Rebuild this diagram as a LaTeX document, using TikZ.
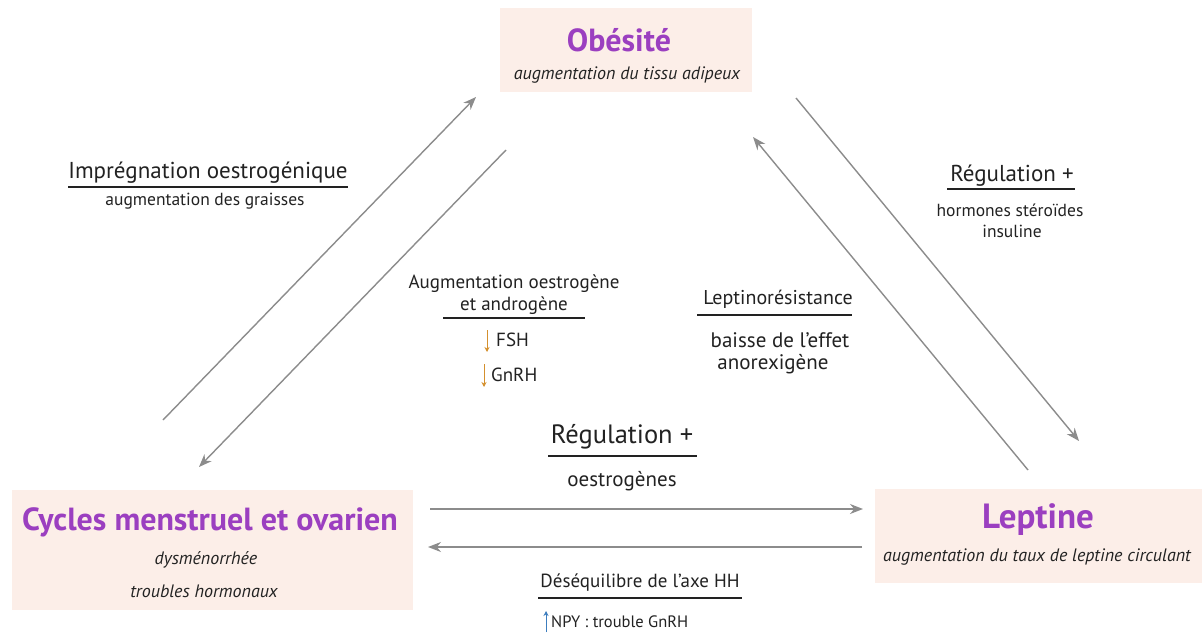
\documentclass[tikz,border=0pt]{standalone}
\usepackage{fontspec}
\setmainfont{PT Sans}
\usetikzlibrary{arrows.meta}
\definecolor{boxfill}{HTML}{FCEEE8}
\definecolor{titlec}{HTML}{9B3FC0}
\definecolor{txt}{HTML}{222222}
\definecolor{arr}{HTML}{8C8C8C}
\definecolor{orangea}{HTML}{D4902E}
\definecolor{bluea}{HTML}{3C7DBE}
\begin{document}
\begin{tikzpicture}[x=1pt,y=-1pt,
  box/.style={fill=boxfill, draw=none, inner sep=0, anchor=north west},
  titletxt/.style={font=\fontsize{32}{34}\selectfont\bfseries, text=titlec, inner sep=0},
  subit/.style={font=\fontsize{18}{20}\selectfont\itshape, text=txt, inner sep=0},
  head/.style={font=\fontsize{19}{22}\selectfont, text=txt, inner sep=0, align=center},
  bighead/.style={font=\fontsize{23}{26}\selectfont, text=txt, inner sep=0},
  body/.style={font=\fontsize{17.5}{20}\selectfont, text=txt, inner sep=0, align=center},
  midbody/.style={font=\fontsize{21}{24}\selectfont, text=txt, inner sep=0, align=center},
  uline/.style={draw=txt, line width=1.1pt},
  conn/.style={draw=arr, line width=1.4pt, -{Stealth[length=13pt,width=10pt]}},
  smallarr/.style={line width=1pt, -{Stealth[length=5pt,width=5pt]}}
]
\useasboundingbox (0,0) rectangle (1202,632);
\fill[white] (0,0) rectangle (1202,632);

% boxes
\node[box, minimum width=252pt, minimum height=84pt] (obox) at (500,8) {};
\node[box, minimum width=401pt, minimum height=120pt] (cbox) at (12,490) {};
\node[box, minimum width=327pt, minimum height=94pt] (lbox) at (875,489) {};

% box texts
\node[titletxt] (otitle) at (619,40) {Obésité};
\node[subit] (osub) at (627,75) {augmentation du tissu adipeux};
\node[titletxt] (ctitle) at (210,522) {Cycles menstruel et ovarien};
\node[subit] (csub1) at (206,560) {dysménorrhée};
\node[subit] (csub2) at (204,591) {troubles hormonaux};
\node[titletxt, font=\fontsize{35}{37}\selectfont\bfseries] (ltitle) at (1038,520) {Leptine};
\node[subit, font=\fontsize{18}{20}\selectfont\itshape] (lsub) at (1037,557) {augmentation du taux de leptine circulant};

% labels
\node[bighead] (imp) at (208,173) {Imprégnation oestrogénique};
\draw[uline] (68,187) -- (348,187);
\node[body] (impb) at (205,201) {augmentation des graisses};

\node[head, align=center] (aug) at (514,295) {Augmentation oestrogène\\et androgène};
\draw[uline] (443,318) -- (585,318);
\node[body, anchor=west, font=\fontsize{19}{21}\selectfont] (fsh) at (496,340) {FSH};
\node[body, anchor=west, font=\fontsize{19}{21}\selectfont] (gnrh) at (491,375) {GnRH};
\draw[smallarr, draw=orangea, fill=orangea] (487,330) -- (487,352);
\draw[smallarr, draw=orangea, fill=orangea] (484,364) -- (484,387);

\node[head, font=\fontsize{20}{22}\selectfont] (lepr) at (778,299) {Leptinorésistance};
\draw[uline] (697,315) -- (852,315);
\node[midbody] (leprb) at (780,340) {baisse de l'effet};
\node[midbody] (leprc) at (773,364) {anorexigène};

\node[bighead] (regr) at (1012,176) {Régulation +};
\draw[uline] (947,189) -- (1075,189);
\node[body] (regrb) at (1010,210) {hormones stéroïdes};
\node[body] (regrc) at (1012,231) {insuline};

\node[bighead, font=\fontsize{26.5}{28}\selectfont] (regm) at (622,437) {Régulation +};
\draw[uline] (548,456) -- (697,456);
\node[midbody] (regmb) at (622,481) {oestrogènes};

\node[head] (deseq) at (640,583) {Déséquilibre de l'axe HH};
\draw[uline] (538,598) -- (742,598);
\node[body, anchor=west, font=\fontsize{16.5}{18}\selectfont] (npy) at (551,622) {NPY : trouble GnRH};
\draw[smallarr, draw=bluea, fill=bluea] (546,632) -- (546,611);

% connector end points
\coordinate (a1s) at (163,420); \coordinate (a1e) at (476,97);
\coordinate (a2s) at (506,150); \coordinate (a2e) at (199,467);
\coordinate (a3s) at (1028,470); \coordinate (a3e) at (753,137);
\coordinate (a4s) at (796,98); \coordinate (a4e) at (1079,441);
\coordinate (a5s) at (430,509); \coordinate (a5e) at (863,509);
\coordinate (a6s) at (862,547); \coordinate (a6e) at (428,547);

\draw[conn] (a1s) -- (a1e);
\draw[conn] (a2s) -- (a2e);
\draw[conn] (a3s) -- (a3e);
\draw[conn] (a4s) -- (a4e);
\draw[conn] (a5s) -- (a5e);
\draw[conn] (a6s) -- (a6e);
\end{tikzpicture}
\end{document}
